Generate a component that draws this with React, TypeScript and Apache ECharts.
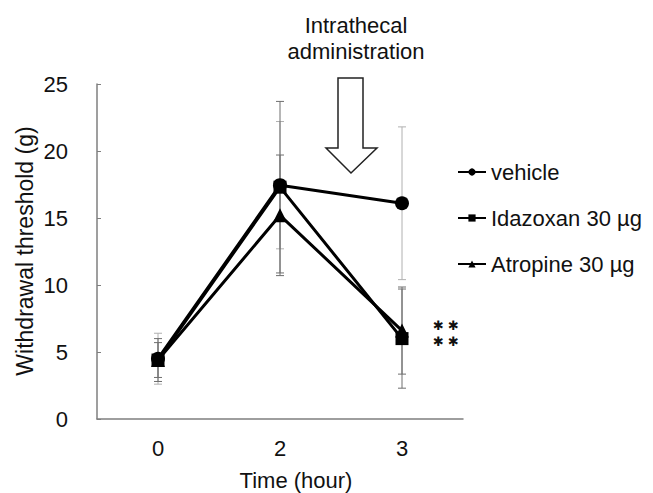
import React, { useEffect, useRef } from "react";
import * as echarts from "echarts";

const categories = ["0", "2", "3"];
const yTicks = { min: 0, max: 25, interval: 5 };

const vehicleMean = [4.5, 17.45, 16.1];
const vehicleSd = [1.9, 4.75, 5.7];
const idazoxanMean = [4.4, 17.3, 6.0];
const idazoxanSd = [1.6, 6.4, 3.7];
const atropineMean = [4.4, 15.2, 6.6];
const atropineSd = [1.3, 4.5, 3.25];

const seriesNames = ["vehicle", "Idazoxan 30 µg", "Atropine 30 µg"];
const xAxisTitle = "Time (hour)";
const yAxisTitle = "Withdrawal threshold (g)";
const annotation = "Intrathecal\nadministration";
const significance = ["✱ ✱", "✱ ✱"];

const FONT = "'Liberation Sans', Arial, sans-serif";

function errSeries(name: string, means: number[], sds: number[], color: string) {
  return {
    type: "custom",
    name: name + " err",
    silent: true,
    z: 1,
    data: means.map((m, i) => [i, m - sds[i], m + sds[i]]),
    encode: { x: 0, y: [1, 2] },
    renderItem: (params: any, api: any) => {
      const xi = api.value(0);
      const lo = api.coord([xi, api.value(1)]);
      const hi = api.coord([xi, api.value(2)]);
      const w = 4;
      const st = { stroke: color, lineWidth: 1 };
      return {
        type: "group",
        children: [
          { type: "line", shape: { x1: lo[0], y1: lo[1], x2: hi[0], y2: hi[1] }, style: st },
          { type: "line", shape: { x1: lo[0] - w, y1: lo[1], x2: lo[0] + w, y2: lo[1] }, style: st },
          { type: "line", shape: { x1: hi[0] - w, y1: hi[1], x2: hi[0] + w, y2: hi[1] }, style: st },
        ],
      };
    },
  };
}

function lineSeries(name: string, data: number[], symbol: string, size: number) {
  return {
    type: "line",
    name,
    data,
    symbol,
    symbolSize: size,
    z: 3,
    lineStyle: { color: "#000", width: 3 },
    itemStyle: { color: "#000" },
  };
}

export default function App() {
  const ref = useRef<HTMLDivElement>(null);
  useEffect(() => {
    if (!ref.current) return;
    const chart = echarts.init(ref.current, null, { renderer: "svg" });
    chart.setOption({
      animation: false,
      backgroundColor: "#fff",
      grid: { left: 97, right: 190, top: 84, bottom: 74 },
      xAxis: {
        type: "category",
        data: categories,
        boundaryGap: true,
        axisLine: { lineStyle: { color: "#7f7f7f", width: 1.5 } },
        axisTick: { show: false },
        axisLabel: { fontSize: 22, color: "#111", fontFamily: FONT, margin: 18 },
      },
      yAxis: {
        type: "value",
        min: yTicks.min,
        max: yTicks.max,
        interval: yTicks.interval,
        splitLine: { show: false },
        axisLine: { show: true, lineStyle: { color: "#7f7f7f", width: 1.5 } },
        axisTick: { show: true, inside: true, length: 4, lineStyle: { color: "#7f7f7f" } },
        axisLabel: { fontSize: 22, color: "#111", fontFamily: FONT, margin: 29 },
      },
      legend: {
        data: seriesNames,
        orient: "vertical",
        left: 452,
        top: 155,
        itemWidth: 28,
        itemHeight: 9,
        itemGap: 22,
        lineStyle: { width: 2 },
        textStyle: { fontSize: 22, color: "#111", fontFamily: FONT, lineHeight: 24 },
      },
      series: [
        errSeries("vehicle", vehicleMean, vehicleSd, "#b0b0b0"),
        errSeries("idazoxan", idazoxanMean, idazoxanSd, "#6e6e6e"),
        errSeries("atropine", atropineMean, atropineSd, "#6e6e6e"),
        lineSeries(seriesNames[0], vehicleMean, "circle", 14),
        lineSeries(seriesNames[1], idazoxanMean, "rect", 13),
        lineSeries(seriesNames[2], atropineMean, "triangle", 14),
      ],
      graphic: [
        {
          type: "text",
          x: 25,
          y: 251,
          rotation: Math.PI / 2,
          style: {
            text: yAxisTitle,
            fontSize: 23,
            fontFamily: FONT,
            fill: "#111",
            textAlign: "center",
            textVerticalAlign: "middle",
          },
        },
        {
          type: "text",
          x: 296,
          y: 480,
          style: {
            text: xAxisTitle,
            fontSize: 22,
            fontFamily: FONT,
            fill: "#111",
            textAlign: "center",
            textVerticalAlign: "middle",
          },
        },
        {
          type: "text",
          x: 356,
          y: 38,
          style: {
            text: annotation,
            fontSize: 22,
            lineHeight: 26,
            fontFamily: FONT,
            fill: "#111",
            textAlign: "center",
            textVerticalAlign: "middle",
          },
        },
        {
          type: "polygon",
          shape: {
            points: [
              [338, 78],
              [363, 78],
              [363, 148],
              [377, 148],
              [351, 173],
              [326, 148],
              [338, 148],
            ],
          },
          style: { fill: "#fff", stroke: "#222", lineWidth: 1.5 },
        },
        ...significance.map((s, i) => ({
          type: "text",
          x: 446,
          y: 325 + i * 16,
          style: {
            text: s,
            fontSize: 13,
            fontFamily: "'DejaVu Sans', sans-serif",
            fill: "#111",
            textAlign: "center",
            textVerticalAlign: "middle",
          },
        })),
      ],
    });
    return () => chart.dispose();
  }, []);
  return (
    <div
      ref={ref}
      style={{ position: "fixed", left: 0, top: 0, width: 653, height: 493 }}
    />
  );
}
